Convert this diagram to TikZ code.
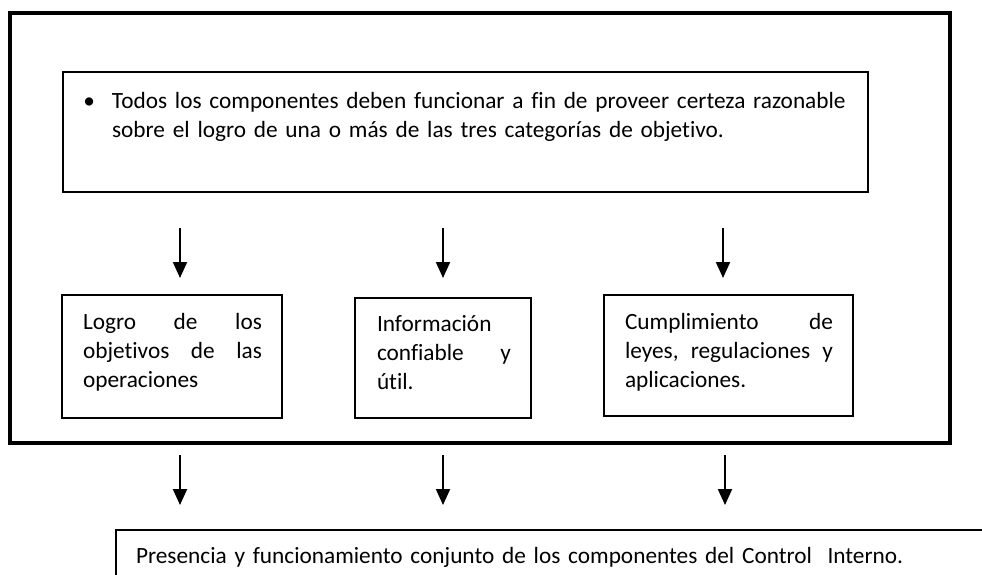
\documentclass[tikz,border=0pt]{standalone}
\usepackage{fontspec}
\setmainfont{Carlito}[Ligatures=CommonOff]
\usetikzlibrary{arrows.meta}

\begin{document}
\begin{tikzpicture}[x=1pt, y=-1pt,
    every node/.style={inner sep=0pt, outer sep=0pt},
    frame/.style={draw, rectangle, line width=4.5pt},
    box/.style={draw, rectangle, line width=1.3pt},
    txt/.style={font=\fontsize{23.3}{29}\selectfont, align=left, anchor=base west},
    arr/.style={line width=2pt, -{Triangle[width=14pt,length=16pt]}}]
    \useasboundingbox (0,0) rectangle (982,574);
    \clip (0,0) rectangle (982,574);
    \node[frame, minimum width=940pt, minimum height=430pt] (outer) at (480,228) {};
    \node[box, minimum width=805pt, minimum height=120pt] (lead) at (465.5,132) {};
    \node[txt, text width=745pt] (leadtxt) at (112,108)
        {\llap{\textbullet\hspace{17pt}}Todos los componentes deben funcionar a fin de proveer certeza razonable\\
         sobre el logro de una o más de las tres categorías de objetivo.};
    \node[box, minimum width=220pt, minimum height=123pt] (logro) at (172,356.5) {};
    \node[box, minimum width=176pt, minimum height=120pt] (info) at (443,358) {};
    \node[box, minimum width=249pt, minimum height=121pt] (cumpl) at (728.5,355.5) {};
    \node[txt, text width=179pt] (logrotxt) at (83,329)
        {Logro\hfill de\hfill los\\ objetivos\hfill de\hfill las\\ operaciones};
    \node[txt, text width=134pt] (infotxt) at (377,331)
        {Información\\ confiable\hfill y\\ útil.};
    \node[txt, text width=208pt] (cumpltxt) at (625,329)
        {Cumplimiento\hfill de\\ leyes,\hfill regulaciones\hfill y\\ aplicaciones.};
    \foreach \x [count=\i] in {180,443,723} {
        \coordinate (up\i) at (\x,228);
        \coordinate (upend\i) at (\x,278);
        \draw[arr] (up\i) -- (upend\i);
    }
    \foreach \x [count=\i] in {180,443,725} {
        \coordinate (dn\i) at (\x,455);
        \coordinate (dnend\i) at (\x,505);
        \draw[arr] (dn\i) -- (dnend\i);
    }
    \node[box, minimum width=970pt, minimum height=90pt] (presencia) at (601,575) {};
    \node[txt, text width=820pt] (presenciatxt) at (136,563)
        {Presencia y funcionamiento conjunto de los componentes del Control~ Interno.};
\end{tikzpicture}
\end{document}
